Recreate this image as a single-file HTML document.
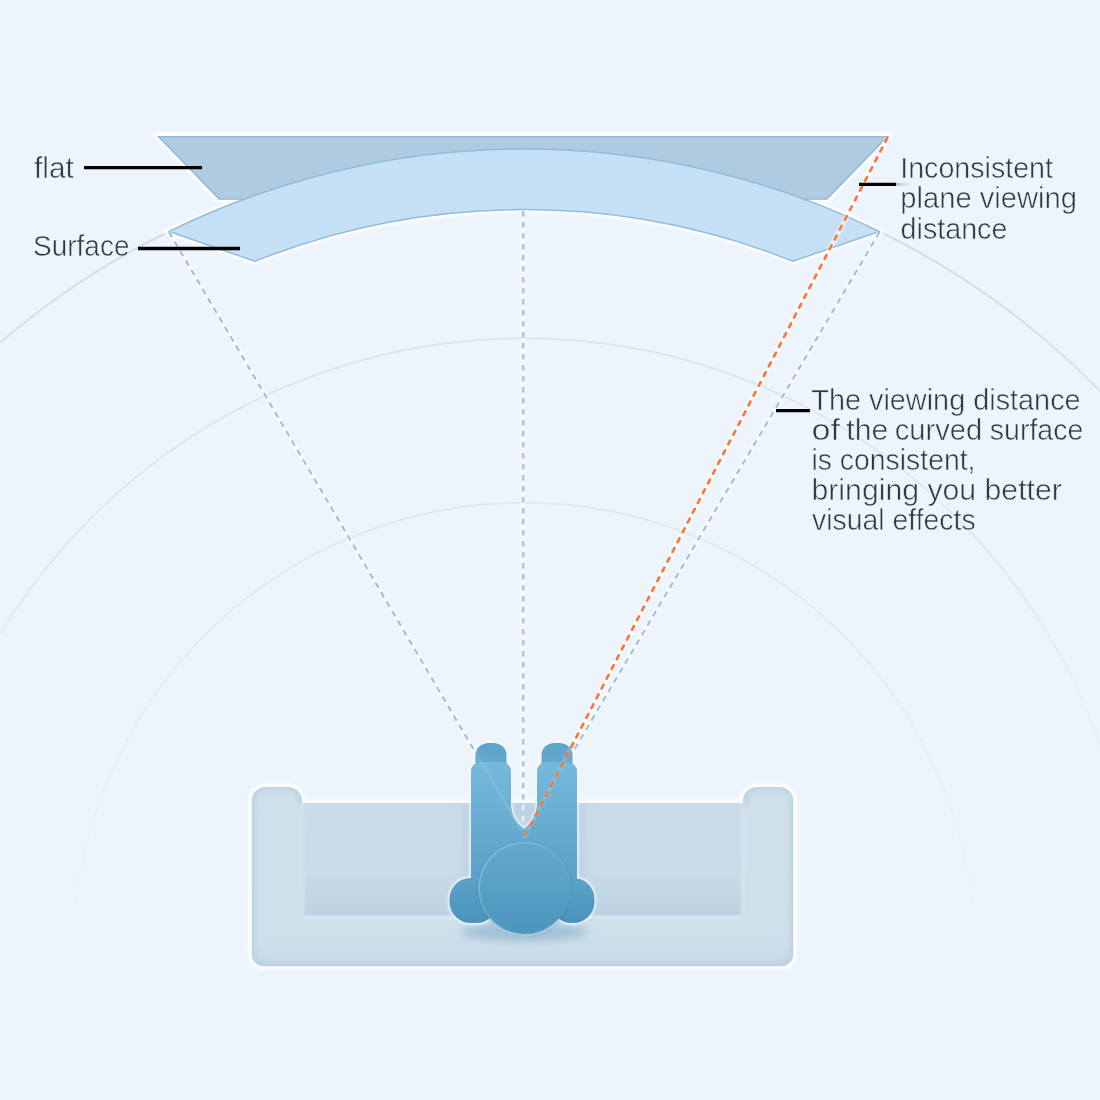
<!DOCTYPE html>
<html><head><meta charset="utf-8">
<style>
html,body{margin:0;padding:0;background:#eef4fc;}
body{width:1100px;height:1100px;overflow:hidden;font-family:"Liberation Sans",sans-serif;}
svg{display:block}
text{font-family:"Liberation Sans",sans-serif;font-size:29.4px;fill:#33373d;stroke:#eef4fc;stroke-width:0.55px}
</style></head>
<body>
<svg width="1100" height="1100" viewBox="0 0 1100 1100">
<defs>
  <linearGradient id="arcouter" gradientUnits="userSpaceOnUse" x1="0" y1="230" x2="0" y2="420">
    <stop offset="0" stop-color="#cfdfec"/>
    <stop offset="1" stop-color="#dce7f1"/>
  </linearGradient>
  <linearGradient id="arcmid" gradientUnits="userSpaceOnUse" x1="0" y1="338" x2="0" y2="860">
    <stop offset="0" stop-color="#dbe6f0" stop-opacity="1"/>
    <stop offset="0.5" stop-color="#dfe8f2" stop-opacity="0.9"/>
    <stop offset="1" stop-color="#e4ecf5" stop-opacity="0"/>
  </linearGradient>
  <linearGradient id="arcin" gradientUnits="userSpaceOnUse" x1="0" y1="500" x2="0" y2="960">
    <stop offset="0" stop-color="#e0e9f2" stop-opacity="1"/>
    <stop offset="0.5" stop-color="#e3ebf4" stop-opacity="0.8"/>
    <stop offset="1" stop-color="#e6eef6" stop-opacity="0"/>
  </linearGradient>
  <linearGradient id="arcfade" gradientUnits="userSpaceOnUse" x1="0" y1="300" x2="0" y2="960">
    <stop offset="0" stop-color="#d8e4ef" stop-opacity="1"/>
    <stop offset="0.45" stop-color="#dde7f1" stop-opacity="0.9"/>
    <stop offset="1" stop-color="#dfe9f3" stop-opacity="0"/>
  </linearGradient>
  <linearGradient id="seat" x1="0" y1="0" x2="0" y2="1">
    <stop offset="0" stop-color="#cbdce9"/>
    <stop offset="0.62" stop-color="#c9dae8"/>
    <stop offset="1" stop-color="#bcd1e2"/>
  </linearGradient>
  <linearGradient id="sofa" x1="0" y1="0" x2="0" y2="1">
    <stop offset="0" stop-color="#d0e1eb"/>
    <stop offset="0.85" stop-color="#cfe0eb"/>
    <stop offset="1" stop-color="#c6d9e7"/>
  </linearGradient>
  <linearGradient id="body" gradientUnits="userSpaceOnUse" x1="0" y1="745" x2="0" y2="930">
    <stop offset="0" stop-color="#74b8da"/>
    <stop offset="0.1" stop-color="#74b8da"/>
    <stop offset="0.4" stop-color="#69add3"/>
    <stop offset="1" stop-color="#4c94bd"/>
  </linearGradient>
  <linearGradient id="head" gradientUnits="userSpaceOnUse" x1="0" y1="842" x2="0" y2="934">
    <stop offset="0" stop-color="#64a9ce"/>
    <stop offset="1" stop-color="#4d95be"/>
  </linearGradient>
  <clipPath id="seatclip"><rect x="302" y="803" width="441" height="113"/></clipPath>
  <clipPath id="sofaclip"><path d="M251.7,801 a14,14 0 0 1 14,-14 h22.3 a14,14 0 0 1 14,14 v2 h441 v-2 a14,14 0 0 1 14,-14 h22.3 a14,14 0 0 1 14,14 v153.3 a12,12 0 0 1 -12,12 h-517.6 a12,12 0 0 1 -12,-12 Z"/></clipPath>
  <linearGradient id="feet" gradientUnits="userSpaceOnUse" x1="0" y1="743" x2="0" y2="773">
    <stop offset="0" stop-color="#5da4cb"/>
    <stop offset="1" stop-color="#66acd2"/>
  </linearGradient>
  <linearGradient id="shoulder" gradientUnits="userSpaceOnUse" x1="0" y1="878" x2="0" y2="923">
    <stop offset="0" stop-color="#5ba2c9"/>
    <stop offset="1" stop-color="#4c93bc"/>
  </linearGradient>
  <linearGradient id="headrim" gradientUnits="userSpaceOnUse" x1="485" y1="845" x2="560" y2="930">
    <stop offset="0" stop-color="#8cc3e0" stop-opacity="0.95"/>
    <stop offset="0.5" stop-color="#78b5d6" stop-opacity="0.5"/>
    <stop offset="1" stop-color="#5a9fc6" stop-opacity="0"/>
  </linearGradient>
  <filter id="blur1" x="-20%" y="-20%" width="140%" height="140%"><feGaussianBlur stdDeviation="0.8"/></filter>
  <filter id="blur3" x="-20%" y="-20%" width="140%" height="140%"><feGaussianBlur stdDeviation="3"/></filter>
  <filter id="blur2" x="-20%" y="-20%" width="140%" height="140%"><feGaussianBlur stdDeviation="1.5"/></filter>
  <filter id="blur5" x="-30%" y="-50%" width="160%" height="200%"><feGaussianBlur stdDeviation="5"/></filter>
</defs>

<rect width="1100" height="1100" fill="#eef4fc"/>

<!-- background arcs -->
<g fill="none" stroke-width="2">
  <circle cx="524.25" cy="955" r="806" stroke="url(#arcouter)" stroke-width="2.3"/>
  <circle cx="524" cy="949.9" r="611.6" stroke="url(#arcmid)"/>
  <circle cx="524" cy="953.8" r="451" stroke="url(#arcin)"/>
</g>

<!-- screens -->
<g id="screens">
  <rect x="156" y="132.6" width="734" height="3.6" fill="#ffffff" opacity="0.9" filter="url(#blur1)"/>
  <!-- white halo -->
  <path d="M158.6,136.7 L887.4,136.7 L827,198.9 L219,198.9 Z" fill="none" stroke="#ffffff" stroke-width="6.5" stroke-linejoin="miter" filter="url(#blur1)"/>
  <path d="M169,231.5 A806,806 0 0 1 879.5,231.5 L792.7,261.3 A725,725 0 0 0 255,261.3 Z" fill="none" stroke="#ffffff" stroke-width="6" filter="url(#blur1)"/>
  <path d="M158.6,136.7 L887.4,136.7 L827,198.9 L219,198.9 Z" fill="none" stroke="#ffffff" stroke-opacity="0.85" stroke-width="4"/>
  <path d="M169,231.5 A806,806 0 0 1 879.5,231.5 L792.7,261.3 A725,725 0 0 0 255,261.3 Z" fill="none" stroke="#ffffff" stroke-opacity="0.85" stroke-width="4"/>
  <path d="M158.6,136.7 L887.4,136.7 L827,198.9 L219,198.9 Z" fill="#aecbe2" stroke="#94b9d6" stroke-width="1.5"/>
  <path d="M169,231.5 A806,806 0 0 1 879.5,231.5 L792.7,261.3 A725,725 0 0 0 255,261.3 Z" fill="#c5e0f4" stroke="#93bcdb" stroke-width="1.5" stroke-linejoin="round"/>
</g>

<!-- sofa -->
<g id="sofa">
  <path d="M251.7,801 a14,14 0 0 1 14,-14 h22.3 a14,14 0 0 1 14,14 v2 h441 v-2 a14,14 0 0 1 14,-14 h22.3 a14,14 0 0 1 14,14 v153.3 a12,12 0 0 1 -12,12 h-517.6 a12,12 0 0 1 -12,-12 Z" fill="none" stroke="#ffffff" stroke-opacity="0.95" stroke-width="7" filter="url(#blur2)"/>
  <path id="sofashape" d="M251.7,801 a14,14 0 0 1 14,-14 h22.3 a14,14 0 0 1 14,14 v2 h441 v-2 a14,14 0 0 1 14,-14 h22.3 a14,14 0 0 1 14,14 v153.3 a12,12 0 0 1 -12,12 h-517.6 a12,12 0 0 1 -12,-12 Z" fill="url(#sofa)"/>
  <g clip-path="url(#sofaclip)">
    <path d="M251.7,801 a14,14 0 0 1 14,-14 h22.3 a14,14 0 0 1 14,14 v2 h441 v-2 a14,14 0 0 1 14,-14 h22.3 a14,14 0 0 1 14,14 v153.3 a12,12 0 0 1 -12,12 h-517.6 a12,12 0 0 1 -12,-12 Z" fill="none" stroke="#b6cbdd" stroke-opacity="0.75" stroke-width="7" filter="url(#blur3)"/>
  </g>
  <rect x="302" y="803" width="441" height="113" fill="url(#seat)"/>
  <g clip-path="url(#seatclip)"><rect x="464" y="790" width="120" height="130" fill="#aec6da" opacity="0.45" filter="url(#blur5)"/></g>
  <!-- soft light edge of armrests over seat -->
  <rect x="300" y="803" width="5" height="113" fill="#d6e5ef" opacity="0.7" filter="url(#blur1)"/>
  <rect x="740" y="803" width="5" height="113" fill="#d6e5ef" opacity="0.7" filter="url(#blur1)"/>
  <rect x="302" y="915" width="441" height="4" fill="#d9e7f1" opacity="0.8" filter="url(#blur1)"/>
</g>

<!-- dashed sight lines -->
<g fill="none" stroke-linecap="butt">
  <g stroke="#ffffff" stroke-opacity="0.45" stroke-width="5">
    <line x1="169" y1="232" x2="476" y2="753"/>
    <line x1="879.5" y1="232" x2="572" y2="753"/>
    <line x1="523.2" y1="211" x2="523.2" y2="800"/>
  </g>
  <g stroke="#a2bfd7" stroke-width="2.1" stroke-dasharray="6 5">
    <line x1="169" y1="232" x2="524" y2="835"/>
    <line x1="879.5" y1="232" x2="524" y2="835"/>
  </g>
  <line x1="523.2" y1="211" x2="523.2" y2="803" stroke="#b0c7da" stroke-width="2.8" stroke-dasharray="5.5 5.5"/>
  <line x1="523.2" y1="805" x2="523.2" y2="830" stroke="#e3edf5" stroke-width="2.8" stroke-dasharray="5.5 5.5"/>
</g>

<!-- person -->
<g id="person">
  <ellipse cx="524" cy="932" rx="64" ry="9" fill="#7fa9c6" opacity="0.6" filter="url(#blur5)"/>
  <!-- light outline -->
  <g fill="none" stroke="#f6fafd" stroke-opacity="0.8" stroke-width="3.4" filter="url(#blur1)">
    <rect x="475.5" y="743" width="31" height="34" rx="13" ry="12"/>
    <rect x="541.5" y="743" width="31" height="34" rx="13" ry="12"/>
    <path d="M471,771 a9,9 0 0 1 9,-9 h22 a9,9 0 0 1 9,9 v35 q1,14 13,23 q12,-9 13,-23 v-35 a9,9 0 0 1 9,-9 h22 a9,9 0 0 1 9,9 v126 h-106 Z"/>
    <rect x="449.5" y="878" width="48" height="45" rx="21"/>
    <rect x="550.5" y="878" width="44" height="45" rx="21"/>
    <circle cx="524.5" cy="888" r="46"/>
  </g>
  <!-- feet -->
  <rect x="475.5" y="743" width="31" height="34" rx="13" ry="12" fill="url(#feet)"/>
  <rect x="541.5" y="743" width="31" height="34" rx="13" ry="12" fill="url(#feet)"/>
  <!-- legs + torso -->
  <path d="M471,771 a9,9 0 0 1 9,-9 h22 a9,9 0 0 1 9,9 v35 q1,14 13,23 q12,-9 13,-23 v-35 a9,9 0 0 1 9,-9 h22 a9,9 0 0 1 9,9 v126 h-106 Z" fill="url(#body)"/>
  <!-- faint sight line traces inside legs -->
  <line x1="476" y1="753" x2="522" y2="831" stroke="#ffffff" stroke-opacity="0.1" stroke-width="3"/>
  <!-- shoulders -->
  <rect x="449.5" y="878" width="48" height="45" rx="21" fill="url(#shoulder)"/>
  <rect x="550.5" y="878" width="44" height="45" rx="21" fill="url(#shoulder)"/>
  <!-- head -->
  <circle cx="524.5" cy="889.5" r="47" fill="#3f82ab" opacity="0.35" filter="url(#blur2)"/>
  <circle cx="524.5" cy="888" r="46" fill="url(#head)"/>
  <circle cx="524.5" cy="888" r="45.3" fill="none" stroke="url(#headrim)" stroke-width="1.6"/>
</g>

<!-- orange line -->
<line x1="887.3" y1="138" x2="574" y2="741.7" stroke="#ffffff" stroke-opacity="0.5" stroke-width="5"/>
<line x1="574" y1="741.7" x2="524" y2="838" stroke="#8fd0f0" stroke-opacity="0.4" stroke-width="4.5"/>
<line x1="887.3" y1="138" x2="524" y2="838" stroke="#f47a3c" stroke-width="2.7" stroke-linecap="round" stroke-dasharray="4.2 6.8"/>

<!-- label lines -->
<linearGradient id="lblfade" gradientUnits="userSpaceOnUse" x1="895" y1="0" x2="912" y2="0">
  <stop offset="0" stop-color="#9db1c5" stop-opacity="0.85"/>
  <stop offset="1" stop-color="#a9bccd" stop-opacity="0"/>
</linearGradient>
<rect x="895" y="182.9" width="17" height="2.8" fill="url(#lblfade)"/>
<g stroke="#000000" stroke-width="3.3">
  <line x1="84" y1="167.6" x2="202" y2="167.6"/>
  <line x1="138" y1="248.5" x2="240" y2="248.5"/>
  <line x1="859" y1="184.3" x2="896" y2="184.3"/>
  <line x1="776" y1="410.7" x2="810" y2="410.7"/>
</g>

<!-- text -->
<g id="labels" style="opacity:0.999">
<text x="34" y="177.8" textLength="39.7" lengthAdjust="spacingAndGlyphs">flat</text>
<text x="33" y="256.3" textLength="96.5" lengthAdjust="spacingAndGlyphs">Surface</text>
<text x="900.2" y="178.4" textLength="152.8" lengthAdjust="spacingAndGlyphs">Inconsistent</text>
<text x="900.3" y="208.1" textLength="176.7" lengthAdjust="spacingAndGlyphs">plane viewing</text>
<text x="900.6" y="238.5" textLength="106.8" lengthAdjust="spacingAndGlyphs">distance</text>
<text x="811.3" y="410.4" textLength="269.3" lengthAdjust="spacingAndGlyphs">The viewing distance</text>
<text y="440.4"><tspan x="811.5" textLength="28.5" lengthAdjust="spacingAndGlyphs">of</tspan><tspan x="846.3" textLength="42" lengthAdjust="spacingAndGlyphs">the</tspan><tspan x="894.8" textLength="87.5" lengthAdjust="spacingAndGlyphs">curved</tspan><tspan x="989.8" textLength="93.5" lengthAdjust="spacingAndGlyphs">surface</tspan></text>
<text x="811.5" y="470.3" textLength="164" lengthAdjust="spacingAndGlyphs">is consistent,</text>
<text x="811.5" y="500.4" textLength="250.3" lengthAdjust="spacingAndGlyphs">bringing you better</text>
<text x="812" y="530.4" textLength="163.6" lengthAdjust="spacingAndGlyphs">visual effects</text>
</g>
</svg>
</body></html>
